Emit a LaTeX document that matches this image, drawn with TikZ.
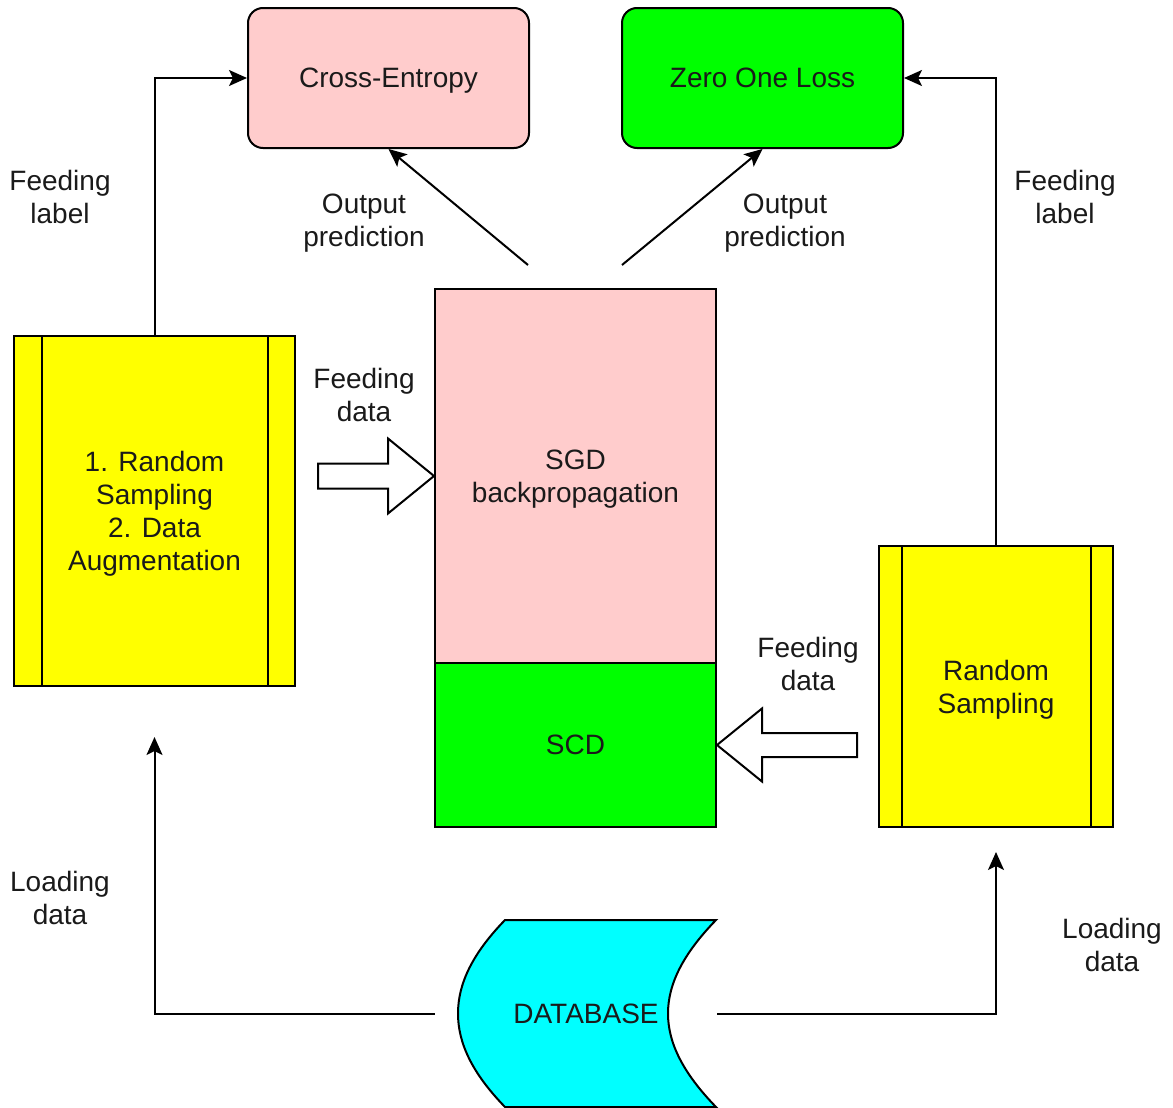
\documentclass[tikz,border=0pt]{standalone}
\usepackage{fontspec}
\setmainfont{Liberation Sans}
\usetikzlibrary{arrows.meta,calc}
\definecolor{pinkfill}{HTML}{FFCCCC}
\definecolor{greenfill}{HTML}{00FF00}
\definecolor{yellowfill}{HTML}{FFFF00}
\definecolor{cyanfill}{HTML}{00FFFF}
\definecolor{txt}{HTML}{1A1A1A}
\begin{document}
\begin{tikzpicture}[x=0.5pt,y=-0.5pt,
  every node/.style={font=\fontsize{14}{16.5}\selectfont, text=txt, align=center, inner sep=0pt, text depth=0pt},
  box/.style={draw=black, line width=1pt, rectangle},
  lossbox/.style={box, rounded corners=7.5pt, minimum width=140.5pt, minimum height=70pt},
  procbox/.style={box, fill=yellowfill},
  arr/.style={draw=black, line width=1pt, -{Stealth[length=9pt,width=8pt,inset=2pt]}},
  blockarrow/.style={draw=black, line width=1pt, fill=white, line join=miter}
]
\useasboundingbox (0,0) rectangle (1173,1108);

% loss boxes
\node[lossbox, fill=pinkfill] (ce) at (388.5,78) {Cross-Entropy};
\node[lossbox, fill=greenfill] (zo) at (762.5,78) {Zero One Loss};

% central optimiser stack
\node[box, fill=pinkfill, minimum width=140.5pt, minimum height=187pt] (sgd) at (575.5,476) {SGD\\backpropagation};
\node[box, fill=greenfill, minimum width=140.5pt, minimum height=82pt] (scd) at (575.5,745) {SCD};

% sampling processes
\node[procbox, minimum width=140.5pt, minimum height=175pt] (lp) at (154.5,511) {1. Random\\Sampling\\2. Data\\Augmentation};
\draw[line width=1pt] ($(lp.north west)+(29,0)$) -- ($(lp.south west)+(29,0)$);
\draw[line width=1pt] ($(lp.north east)+(-28,0)$) -- ($(lp.south east)+(-28,0)$);

\node[procbox, minimum width=117pt, minimum height=140.5pt] (rp) at (996,686.5) {Random\\Sampling};
\draw[line width=1pt] ($(rp.north west)+(24,0)$) -- ($(rp.south west)+(24,0)$);
\draw[line width=1pt] ($(rp.north east)+(-23,0)$) -- ($(rp.south east)+(-23,0)$);

% database
\node[minimum width=141pt, minimum height=93.5pt] (db) at (576,1013.5) {};
\draw[line width=1pt, fill=cyanfill, line join=miter]
  (505,920) -- (716,920)
  .. controls (683,954) and (668,984) .. (668,1013.5)
  .. controls (668,1043) and (683,1073) .. (716,1107)
  -- (505,1107)
  .. controls (472,1073) and (458,1043) .. (458,1013.5)
  .. controls (458,984) and (472,954) .. (505,920) -- cycle;
\node (dbtext) at (586,1014) {DATABASE};

% label feeding
\draw[arr] (lp.north) |- (ce.west);
\draw[arr] (rp.north) |- (zo.east);

% output predictions
\coordinate (op1) at (528,265);
\coordinate (op2) at (622,265);
\draw[arr] (op1) -- (ce.south);
\draw[arr] (op2) -- (zo.south);

% loading data
\coordinate (ld1) at (154.5,737);
\coordinate (ld2) at (996,852);
\draw[arr] (db.west) -| (ld1);
\draw[arr] (db.east) -| (ld2);

% data feeding block arrows
\draw[blockarrow] (sgd.west) -- ++(-46,-37.5) -- ++(0,25) -- ++(-70,0) -- ++(0,25)
  -- ++(70,0) -- ++(0,25) -- cycle;
\draw[blockarrow] (scd.east) -- ++(45,-36.5) -- ++(0,24.5) -- ++(95,0) -- ++(0,24)
  -- ++(-95,0) -- ++(0,24.5) -- cycle;

% connector labels
\node (fl1) at (60,197) {Feeding\\label};
\node (fl2) at (1065,197) {Feeding\\label};
\node (opl1) at (364,220) {Output\\prediction};
\node (opl2) at (785,220) {Output\\prediction};
\node (fd1) at (364,395) {Feeding\\data};
\node (fd2) at (808,664) {Feeding\\data};
\node (ldl1) at (60,898) {Loading\\data};
\node (ldl2) at (1112,945) {Loading\\data};
\end{tikzpicture}
\end{document}
